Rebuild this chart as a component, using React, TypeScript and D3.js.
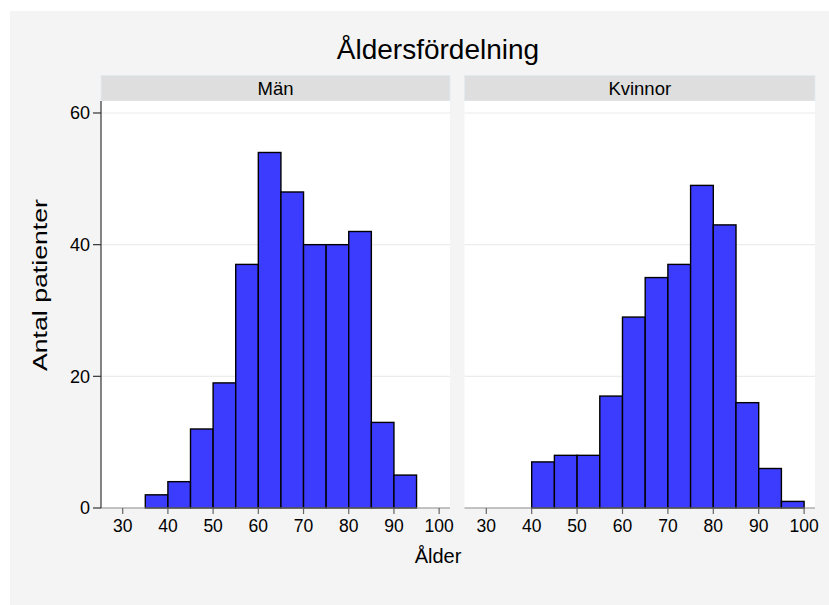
import React from "react";
import * as d3 from "d3";

const binStarts = [35, 40, 45, 50, 55, 60, 65, 70, 75, 80, 85, 90, 95];
const menCounts = [2, 4, 12, 19, 37, 54, 48, 40, 40, 42, 13, 5, 0];
const womenCounts = [0, 7, 8, 8, 17, 29, 35, 37, 49, 43, 16, 6, 1];
const binWidth = 5;
const xTicks = [30, 40, 50, 60, 70, 80, 90, 100];
const yTicks = [0, 20, 40, 60];
const panelNames = ["Män", "Kvinnor"];
const title = "Åldersfördelning";
const xTitle = "Ålder";
const yTitle = "Antal patienter";

const FONT = "'Liberation Sans', Arial, Helvetica, sans-serif";

export default function App() {
  const W = 829, H = 605;
  const top = 101, bottom = 508;
  const panels = [
    { x0: 101, x1: 450, counts: menCounts, name: panelNames[0], axis: true },
    { x0: 464.5, x1: 815, counts: womenCounts, name: panelNames[1], axis: false },
  ];
  const y = d3.scaleLinear().domain([0, 61.82]).range([bottom, top]);

  return (
    <svg width={W} height={H} style={{ position: "absolute", left: 0, top: 0, fontFamily: FONT }}>
      <rect x={0} y={0} width={W} height={H} fill="#ffffff" />
      <rect x={10} y={11} width={W - 10} height={H - 11} fill="#f4f4f4" />
      <text x={438} y={59} textAnchor="middle" fontSize={28} fill="#000">{title}</text>
      {panels.map((p, pi) => {
        const x = d3.scaleLinear().domain([25.2, 102.4]).range([p.x0, p.x1]);
        return (
          <g key={pi}>
            <rect x={p.x0} y={75.5} width={p.x1 - p.x0} height={25.5} fill="#dedede" stroke="#e3ebef" strokeWidth={1} />
            <text x={(p.x0 + p.x1) / 2} y={94.5} textAnchor="middle" fontSize={18.5} fill="#000">{p.name}</text>
            <rect x={p.x0} y={top} width={p.x1 - p.x0} height={bottom - top} fill="#ffffff" />
            {yTicks.filter(t => t > 0).map(t => (
              <line key={t} x1={p.x0} x2={p.x1} y1={y(t)} y2={y(t)} stroke="#ececec" strokeWidth={1.2} />
            ))}
            {binStarts.map((b, i) => p.counts[i] > 0 && (
              <rect key={b} x={x(b)} y={y(p.counts[i])} width={x(b + binWidth) - x(b)} height={y(0) - y(p.counts[i])}
                fill="#3c3cff" stroke="#000" strokeWidth={1.4} />
            ))}
            <line x1={p.x0} x2={p.x1} y1={bottom} y2={bottom} stroke="#8a8a8a" strokeWidth={1.2} />
            {xTicks.map(t => (
              <g key={t}>
                <line x1={x(t)} x2={x(t)} y1={bottom} y2={bottom + 6} stroke="#666" strokeWidth={1.2} />
                <text x={x(t)} y={532} textAnchor="middle" fontSize={17.5} fill="#000">{t}</text>
              </g>
            ))}
            {p.axis && (
              <g>
                <line x1={p.x0} x2={p.x0} y1={top} y2={bottom} stroke="#333" strokeWidth={1.2} />
                {yTicks.map(t => (
                  <g key={t}>
                    <line x1={p.x0 - 8} x2={p.x0} y1={y(t)} y2={y(t)} stroke="#333" strokeWidth={1.2} />
                    <text x={p.x0 - 11} y={y(t)} dy="0.36em" textAnchor="end" fontSize={18} fill="#000">{t}</text>
                  </g>
                ))}
              </g>
            )}
          </g>
        );
      })}
      <text x={438} y={563} textAnchor="middle" fontSize={20} fill="#000">{xTitle}</text>
      <text transform="translate(47,285) rotate(-90)" textAnchor="middle" fontSize={20.5}
        textLength={172} lengthAdjust="spacingAndGlyphs" fill="#000">{yTitle}</text>
    </svg>
  );
}
